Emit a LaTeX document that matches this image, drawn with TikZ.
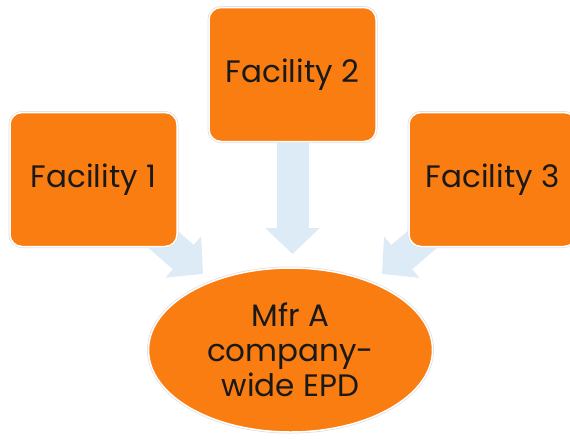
\documentclass[tikz,border=0pt]{standalone}
\usepackage{fontspec}
\setmainfont{Poppins}
\usetikzlibrary{shapes.geometric,arrows.meta,backgrounds}
\definecolor{epdorange}{RGB}{250,125,17}
\definecolor{flowblue}{RGB}{221,235,247}
\tikzset{
  facility/.style={rectangle,rounded corners=12pt,fill=epdorange,draw=white,line width=1.5pt,
    preaction={draw=black!12,line width=3pt},minimum width=167pt,minimum height=134pt,
    inner sep=0pt,font=\fontsize{31}{35}\selectfont,text=black!90},
  company/.style={ellipse,fill=epdorange,draw=white,line width=1.5pt,
    preaction={draw=black!12,line width=3pt},minimum width=284pt,minimum height=164pt,
    inner sep=0pt,align=center,font=\fontsize{31}{35}\selectfont,text=black!90},
  flow/.style={draw=flowblue,line width=32pt,-{Triangle[width=53pt,length=26pt]}}
}
\begin{document}
\begin{tikzpicture}[x=1pt,y=-1pt]
\useasboundingbox (0,0) rectangle (570,440);
\node[facility] (fac1) at (93.5,179.5) {Facility 1};
\node[facility] (fac2) at (292.5,74.5) {Facility 2};
\node[facility] (fac3) at (492.5,179.5) {Facility 3};
\node[company] (mfr) at (290.5,350) {Mfr A\\company-\\wide EPD};
\coordinate (tip1) at (203,274);
\coordinate (tip2) at (292.5,254);
\coordinate (tip3) at (382,274);
\begin{scope}[on background layer]
\draw[flow] (fac1.center) -- (tip1);
\draw[flow] (fac2.center) -- (tip2);
\draw[flow] (fac3.center) -- (tip3);
\end{scope}
\end{tikzpicture}
\end{document}
